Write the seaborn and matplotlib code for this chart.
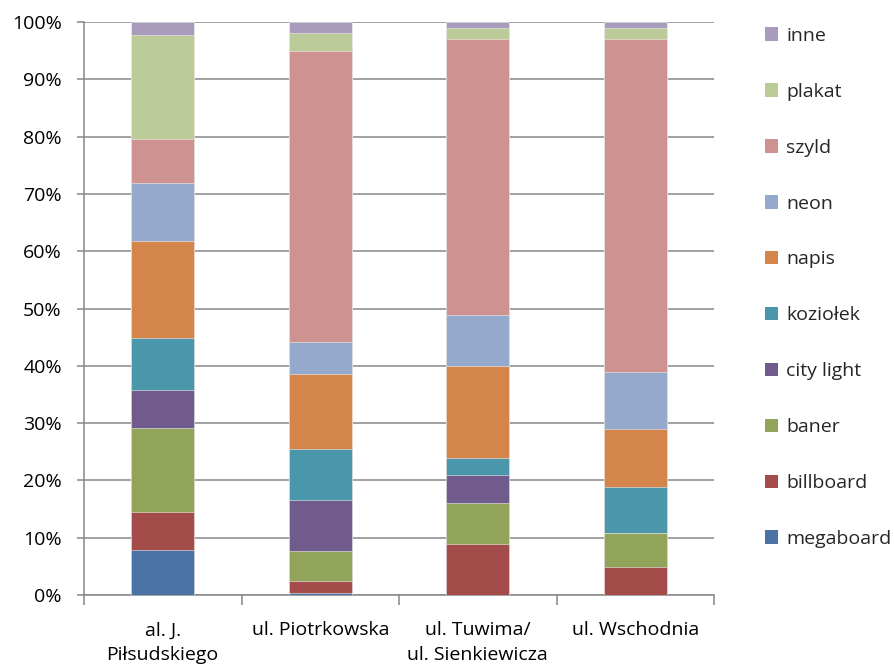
import numpy as np
import pandas as pd
import seaborn as sns
import matplotlib
matplotlib.use("Agg")
import matplotlib.pyplot as plt
from matplotlib.patches import Patch
from matplotlib.ticker import FixedLocator, PercentFormatter

# Streets (categories)
streets = ["al. J.\nPiłsudskiego", "ul. Piotrkowska",
           "ul. Tuwima/\nul. Sienkiewicza", "ul. Wschodnia"]

# Share of each advertising type per street (%), bottom to top
megaboard = [7.8, 0.4, 0.0, 0.0]
billboard = [6.7, 2.0, 8.9, 4.9]
baner = [14.7, 5.2, 7.1, 6.0]
city_light = [6.6, 8.9, 4.9, 0.0]
koziolek = [9.0, 9.0, 3.0, 8.0]
napis = [16.9, 13.1, 16.1, 10.0]
neon = [10.2, 5.5, 8.9, 10.0]
szyld = [7.7, 50.8, 48.1, 58.1]
plakat = [18.1, 3.1, 2.0, 2.0]
inne = [2.3, 2.0, 1.0, 1.0]

series_names = ["megaboard", "billboard", "baner", "city light", "koziołek",
                "napis", "neon", "szyld", "plakat", "inne"]
series_values = [megaboard, billboard, baner, city_light, koziolek,
                 napis, neon, szyld, plakat, inne]
series_colors = ["#4A72A4", "#A44C4A", "#92A45A", "#715B8D", "#4A96AB",
                 "#D4854A", "#95A9CC", "#CE9291", "#BACB97", "#A89BBB"]

FONT = "Open Sans"
FS = 14
GRID = "#878787"

sns.set_theme(style="white")
plt.rcParams["font.family"] = [FONT, "DejaVu Sans"]

# long table with cumulative tops for each segment
rows = []
for name, vals in zip(series_names, series_values):
    for street, v in zip(streets, vals):
        rows.append({"ulica": street, "typ": name, "udzial": v})
df = pd.DataFrame(rows)
df["typ"] = pd.Categorical(df["typ"], categories=series_names, ordered=True)
df["ulica"] = pd.Categorical(df["ulica"], categories=streets, ordered=True)
df = df.sort_values(["ulica", "typ"])
df["szczyt"] = df.groupby("ulica", observed=True)["udzial"].cumsum()

fig = plt.figure(figsize=(8.95, 6.64), dpi=100)
ax = fig.add_axes([84 / 895, 69 / 664, (714 - 84) / 895, (595 - 22) / 664])

# draw the stack from the top segment down so each lower bar covers the rest
for name, color in reversed(list(zip(series_names, series_colors))):
    sub = df[df["typ"] == name]
    sns.barplot(data=sub, x="ulica", y="szczyt", order=streets, color=color,
                saturation=1, width=0.4, ax=ax, edgecolor="#F0F0F0",
                linewidth=0.4, zorder=3)

ax.set_xlim(-0.5, 3.5)
ax.set_ylim(0, 100)
ax.set_xlabel("")
ax.set_ylabel("")

ax.yaxis.set_major_locator(FixedLocator(np.arange(0, 101, 10)))
ax.yaxis.set_major_formatter(PercentFormatter(decimals=0))
ax.set_axisbelow(True)
ax.yaxis.grid(True, color=GRID, linewidth=1.1, zorder=0)
ax.xaxis.grid(False)

for side in ("top", "right"):
    ax.spines[side].set_visible(False)
for side in ("left", "bottom"):
    ax.spines[side].set_color(GRID)
    ax.spines[side].set_linewidth(1.1)

ax.tick_params(axis="y", which="major", length=5, width=1.1, color=GRID,
               labelsize=FS, labelcolor="black", pad=11, left=True)
ax.tick_params(axis="x", which="major", length=0, labelsize=FS,
               labelcolor="black", pad=19)
ax.xaxis.set_minor_locator(FixedLocator([-0.5, 0.5, 1.5, 2.5, 3.5]))
ax.tick_params(axis="x", which="minor", length=7, width=1.1, color=GRID,
               bottom=True)
for lbl in ax.get_xticklabels():
    lbl.set_linespacing(1.45)

handles = [Patch(facecolor=c, edgecolor="none", label=n)
           for n, c in zip(series_names, series_colors)][::-1]
fig.legend(handles=handles, loc="upper left",
           bbox_to_anchor=(757 / 895, 1 - 19 / 664), frameon=False,
           fontsize=FS, handlelength=0.7, handleheight=0.7,
           handletextpad=0.4, labelspacing=1.95, borderaxespad=0)

fig.savefig("out.png", dpi=100)
